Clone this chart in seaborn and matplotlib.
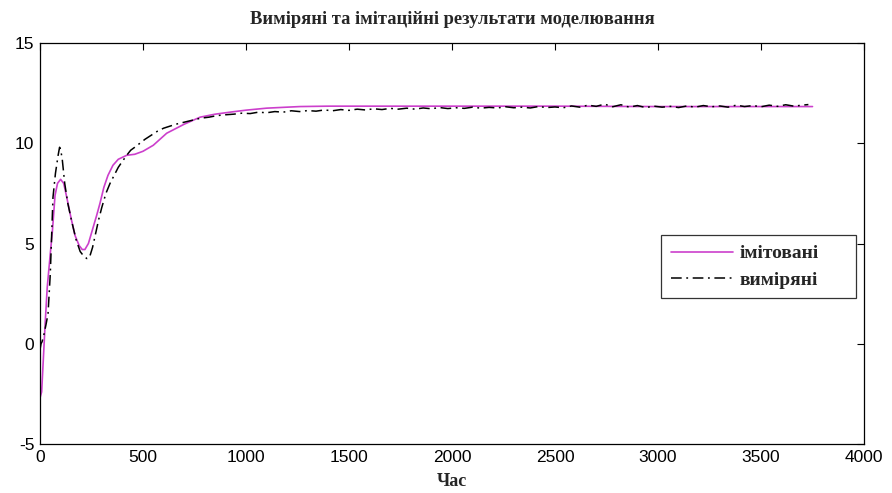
import numpy as np
import pandas as pd
import matplotlib
matplotlib.use("Agg")
import matplotlib.pyplot as plt
import seaborn as sns

title = "Виміряні та імітаційні результати моделювання"
xlabel = "Час"
label_sim = "імітовані"
label_meas = "виміряні"

sim_t = [0, 8, 15, 25, 35, 50, 60, 73, 85, 100, 115, 130, 150, 170, 190, 205, 218,
         235, 255, 275, 291, 310, 330, 354, 380, 421, 460, 500, 550, 615, 700, 777,
         850, 937, 1000, 1100, 1200, 1262, 1400, 1600, 2000, 2500, 3000, 3500, 3750]
sim_y = [-2.7, -2.4, -1.0, 1.0, 2.8, 4.5, 5.6, 7.4, 8.0, 8.2, 8.0, 7.3, 6.3, 5.4,
         4.9, 4.7, 4.7, 5.0, 5.7, 6.4, 7.0, 7.8, 8.4, 8.9, 9.2, 9.4, 9.45, 9.6, 9.9,
         10.5, 10.95, 11.3, 11.45, 11.57, 11.65, 11.75, 11.8, 11.83, 11.85, 11.85,
         11.85, 11.85, 11.83, 11.83, 11.83]

meas_t = [0, 5, 10, 20, 30, 39, 50, 63, 75, 88, 95, 100, 108, 120, 135, 154, 175,
          195, 210, 227, 240, 255, 270, 285, 300, 320, 340, 355, 380, 400, 421, 440,
          460, 485, 510, 540, 570, 600, 630, 660, 700, 740, 780, 820, 860, 900, 940,
          980, 1020, 1060, 1100, 1140, 1180, 1220, 1260, 1300, 1340, 1380, 1420, 1460,
          1500, 1540, 1580, 1620, 1660, 1700, 1740, 1780, 1820, 1860, 1900, 1940, 1980,
          2020, 2060, 2100, 2140, 2180, 2220, 2260, 2300, 2340, 2380, 2420, 2460, 2500,
          2540, 2580, 2620, 2660, 2700, 2740, 2780, 2820, 2860, 2900, 2940, 2980, 3020,
          3060, 3100, 3140, 3180, 3220, 3260, 3300, 3340, 3380, 3420, 3460, 3500, 3540,
          3580, 3620, 3660, 3700, 3730]
meas_y = [-0.3, 0.0, 0.1, 0.5, 1.0, 1.5, 3.5, 7.3, 8.5, 9.4, 9.8, 9.7, 9.2, 8.0,
          7.0, 6.1, 5.2, 4.6, 4.4, 4.25, 4.3, 4.8, 5.5, 6.2, 6.8, 7.5, 8.0, 8.3, 8.8,
          9.1, 9.4, 9.65, 9.8, 10.0, 10.2, 10.4, 10.6, 10.75, 10.85, 10.95, 11.05,
          11.15, 11.25, 11.3, 11.38, 11.42, 11.45, 11.5, 11.48, 11.55, 11.52, 11.58,
          11.55, 11.62, 11.58, 11.63, 11.6, 11.66, 11.62, 11.68, 11.64, 11.7, 11.66,
          11.72, 11.68, 11.74, 11.7, 11.75, 11.7, 11.76, 11.72, 11.78, 11.73, 11.77,
          11.74, 11.8, 11.75, 11.79, 11.76, 11.82, 11.77, 11.8, 11.76, 11.83, 11.78,
          11.81, 11.77, 11.86, 11.8, 11.9, 11.84, 11.95, 11.82, 11.92, 11.8, 11.88,
          11.78, 11.85, 11.8, 11.84, 11.78, 11.86, 11.8, 11.88, 11.82, 11.86, 11.8,
          11.9, 11.83, 11.88, 11.82, 11.9, 11.84, 11.92, 11.85, 11.9, 11.93]

sim_df = pd.DataFrame({"t": sim_t, "y": sim_y})
meas_df = pd.DataFrame({"t": meas_t, "y": meas_y})

sns.set_theme(style="white")
plt.rcParams["font.family"] = ["Liberation Sans Narrow", "Liberation Sans", "DejaVu Sans"]
plt.rcParams["axes.unicode_minus"] = False

fig = plt.figure(figsize=(8.92, 4.93), dpi=100)
ax = fig.add_axes([40 / 892, 1 - 444 / 493, 824 / 892, 401 / 493])

sns.lineplot(data=sim_df, x="t", y="y", ax=ax, color="#cc3fcc", linewidth=1.2,
             label=label_sim, sort=False)
sns.lineplot(data=meas_df, x="t", y="y", ax=ax, color="black", linewidth=1.1,
             linestyle=(0, (7, 3, 1.2, 3)), label=label_meas, sort=False)

ax.set_xlim(0, 4000)
ax.set_ylim(-5, 15)
ax.set_xticks(np.arange(0, 4001, 500))
ax.set_yticks([-5, 0, 5, 10, 15])
ax.tick_params(direction="in", length=5, width=0.8, top=True, right=True,
               labelsize=12.5, colors="black", pad=4)
for s in ax.spines.values():
    s.set_color("black")
    s.set_linewidth(0.9)
    s.set_visible(True)

serif = ["Liberation Serif", "DejaVu Serif"]
ax.set_title(title, fontsize=13.3, fontweight="bold", family=serif, pad=14)
ax.set_xlabel(xlabel, fontsize=13, fontweight="bold", family=serif, labelpad=6)
ax.set_ylabel("")

lx0 = (661 - 40) / 824
lw = (856 - 661) / 824
ly1 = (444 - 235) / 401
lh = 65 / 401
leg = ax.legend(loc="upper left", bbox_to_anchor=(lx0, ly1 - lh, lw, lh),
                mode="expand", borderaxespad=0, frameon=True, fancybox=False,
                edgecolor="black",
                prop={"family": serif, "weight": "bold", "size": 14},
                handlelength=3.2, handletextpad=0.35, borderpad=0.5,
                labelspacing=0.45)
leg.get_frame().set_linewidth(0.9)

fig.savefig("out.png", dpi=100, facecolor="white")
